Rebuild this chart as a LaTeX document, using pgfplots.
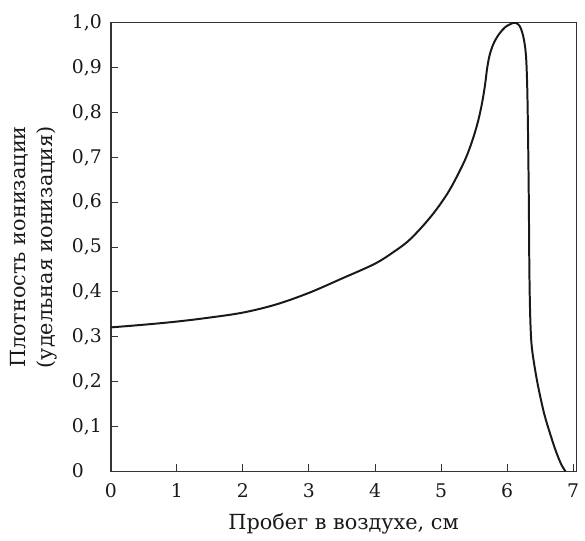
\documentclass[border=0pt]{standalone}
\usepackage{fontspec}
\setmainfont{DejaVu Serif}
\usepackage{pgfplots}
\pgfplotsset{compat=1.18}
\begin{document}
\fontsize{18}{27}\selectfont
\begin{tikzpicture}
\begin{axis}[name=ax,
  scale only axis, width=470pt, height=453pt,
  xmin=0, xmax=7.05, ymin=0, ymax=1.0,
  axis line style={draw=black!80, line width=1.3pt},
  tick style={draw=black!80, line width=1pt},
  tick align=inside, major tick length=7pt,
  xtick={0,1,2,3,4,5,6,7},
  ytick={0,0.1,0.2,0.3,0.4,0.5,0.6,0.7,0.8,0.9,1.0},
  yticklabels={{0\phantom{,0}},{0,1},{0,2},{0,3},{0,4},{0,5},{0,6},{0,7},{0,8},{0,9},{1,0}},
  xticklabels={0,1,2,3,4,5,6,7},
  xtick pos=bottom, ytick pos=left,
  xticklabel style={font=\fontsize{19}{22}\selectfont, text=black!90, yshift=-6pt},
  yticklabel style={font=\fontsize{19}{22}\selectfont, text=black!90, xshift=-3pt},
  xlabel={Пробег в воздухе, см},
  ylabel={Плотность ионизации\\(удельная ионизация)},
  every axis x label/.style={at={(axis description cs:0.5,-0.130)}, anchor=base, font=\fontsize{21}{25}\selectfont, text=black!90},
  every axis y label/.style={at={(axis description cs:-0.166,0.5)}, rotate=90, anchor=center, align=center, font=\fontsize{21}{27}\selectfont, text=black!90},
]
\addplot[smooth, tension=0.55, line width=2pt, color=black!90] coordinates {
(0,0.321) (0.5,0.327) (1,0.334) (1.5,0.343) (2,0.354) (2.5,0.372) (3,0.398)
(3.5,0.430) (4,0.463) (4.3,0.491) (4.5,0.513) (4.7,0.543) (4.9,0.578) (5.1,0.62)
(5.25,0.66) (5.38,0.70) (5.48,0.74) (5.56,0.78) (5.62,0.82) (5.665,0.86)
(5.70,0.90) (5.74,0.93) (5.80,0.955) (5.88,0.975) (5.97,0.99) (6.05,0.997)
(6.12,1.0) (6.19,0.993) (6.245,0.97) (6.285,0.93) (6.305,0.86) (6.318,0.75)
(6.33,0.6) (6.338,0.45) (6.35,0.35) (6.37,0.285) (6.41,0.24) (6.47,0.19)
(6.56,0.13) (6.65,0.085) (6.74,0.045) (6.82,0.016) (6.885,0)
};
\end{axis}
\path ([shift={(-112pt,-64pt)}]ax.south west) rectangle ([shift={(3pt,23pt)}]ax.north east);
\end{tikzpicture}
\end{document}
